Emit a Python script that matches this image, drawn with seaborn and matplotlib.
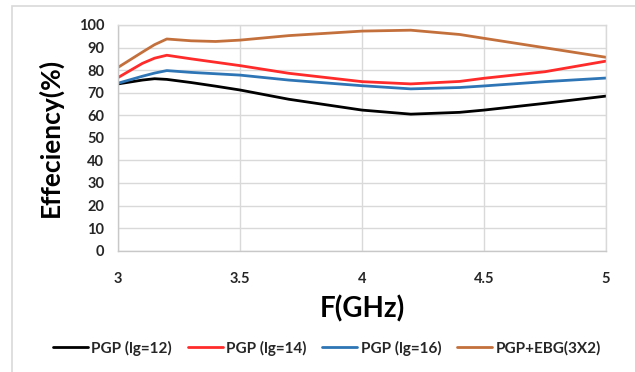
import matplotlib
matplotlib.use("Agg")
import matplotlib.pyplot as plt
from matplotlib.patches import Rectangle
import seaborn as sns
import pandas as pd

# Frequency samples (GHz) and efficiency (%) for each configuration
freq = [3.0, 3.1, 3.15, 3.2, 3.3, 3.4, 3.5, 3.7, 4.0, 4.2, 4.4, 4.5, 4.75, 5.0]
eff_lg12 = [73.9, 75.6, 76.2, 75.9, 74.5, 72.9, 71.2, 67.1, 62.3, 60.5, 61.3, 62.3, 65.3, 68.5]
eff_lg14 = [76.7, 83.0, 85.3, 86.6, 85.0, 83.5, 82.0, 78.6, 74.9, 73.9, 75.0, 76.4, 79.3, 84.0]
eff_lg16 = [74.2, 77.3, 78.7, 79.8, 79.0, 78.4, 77.8, 75.6, 73.1, 71.7, 72.3, 73.0, 74.9, 76.5]
eff_ebg = [81.2, 88.0, 91.3, 93.8, 93.0, 92.7, 93.3, 95.3, 97.3, 97.7, 95.8, 94.1, 89.9, 85.7]

series_names = ["PGP (lg=12)", "PGP (lg=14)", "PGP (lg=16)", "PGP+EBG(3X2)"]
series_colors = ["#000000", "#ff2b2b", "#2e75b6", "#c4703c"]
x_ticks = [3, 3.5, 4, 4.5, 5]
x_tick_labels = ["3", "3.5", "4", "4.5", "5"]
y_ticks = list(range(0, 101, 10))

df = pd.DataFrame({
    "F": freq * 4,
    "eff": eff_lg12 + eff_lg14 + eff_lg16 + eff_ebg,
    "series": sum([[n] * len(freq) for n in series_names], []),
})

sns.set_theme(style="white")
plt.rcParams["font.family"] = ["Lato", "DejaVu Sans"]
plt.rcParams["font.weight"] = "bold"

fig = plt.figure(figsize=(6.35, 3.72), dpi=100)
fig.patch.set_facecolor("white")

# chart frame
fig.patches.append(Rectangle((12 / 635, -0.1), 2.0, 1 - 6 / 372 + 0.1,
                             transform=fig.transFigure, fill=False,
                             edgecolor="#d9d9d9", linewidth=1.2))

ax = fig.add_axes([118 / 635, 1 - 250.7 / 372, (606 - 118) / 635, (250.7 - 25) / 372])

sns.lineplot(data=df, x="F", y="eff", hue="series", hue_order=series_names,
             palette=series_colors, linewidth=2.0, ax=ax, legend=False,
             sort=False)

ax.set_xlim(3, 5)
ax.set_ylim(0, 100)
ax.set_xticks(x_ticks)
ax.set_xticklabels(x_tick_labels)
ax.set_yticks(y_ticks)
ax.grid(True, color="#d9d9d9", linewidth=1.0)
ax.set_axisbelow(True)
for s in ax.spines.values():
    s.set_color("#d9d9d9")
    s.set_linewidth(1.0)
ax.spines["left"].set_color("#c8c8c8")
ax.spines["bottom"].set_color("#c8c8c8")
ax.tick_params(axis="both", length=0, labelsize=10.5, colors="#262626")
ax.tick_params(axis="x", pad=15)
ax.tick_params(axis="y", pad=10)
for lbl in ax.get_xticklabels() + ax.get_yticklabels():
    lbl.set_fontweight("bold")

ax.set_xlabel("F(GHz)", fontsize=20, fontweight="bold", color="#000000", labelpad=7)
ax.set_ylabel("Effeciency(%)", fontsize=19, fontweight="bold", color="#000000", labelpad=11)

handles = [plt.Line2D([0], [0], color=c, linewidth=2.0) for c in series_colors]
fig.legend(handles, series_names, loc="center", bbox_to_anchor=(327 / 635, 1 - 348 / 372),
           ncol=4, frameon=False, handlelength=2.3, handletextpad=0.25,
           columnspacing=1.0, prop={"weight": "bold", "size": 11})

fig.savefig("out.png", dpi=100)
